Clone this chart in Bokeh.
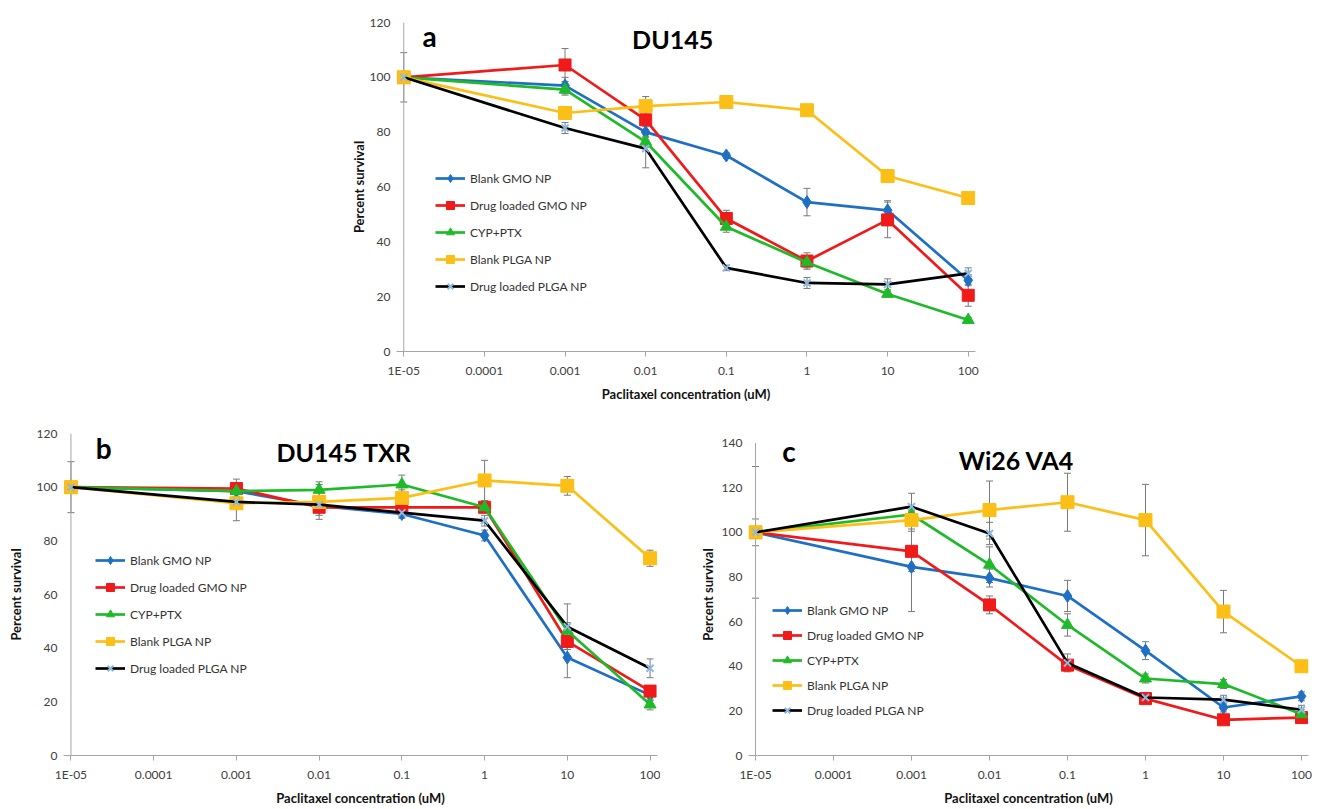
from bokeh.plotting import figure
from bokeh.models import (Range1d, FixedTicker, Label, Legend, LegendItem,
                          ColumnDataSource, Whisker, TeeHead, Spacer)
from bokeh.layouts import column, row
from bokeh.embed import file_html
from bokeh.resources import INLINE

# ---------------- data ----------------
conc = [1e-05, 0.001, 0.01, 0.1, 1, 10, 100]
tick_values = [1e-05, 1e-04, 1e-03, 1e-02, 0.1, 1, 10, 100]
tick_labels = ["1E-05", "0.0001", "0.001", "0.01", "0.1", "1", "10", "100"]
series_names = ["Blank GMO NP", "Drug loaded GMO NP", "CYP+PTX", "Blank PLGA NP", "Drug loaded PLGA NP"]

# Panel a: DU145
a_blank_gmo = [100, 97, 80, 71.5, 54.5, 51.5, 26]
a_drug_gmo = [100, 104.5, 84.5, 48.5, 33, 48, 20.5]
a_cyp_ptx = [100, 95.5, 76.5, 45.5, 32.5, 21, 11.5]
a_blank_plga = [100, 87, 89.5, 91, 88, 64, 56]
a_drug_plga = [100, 81.5, 74, 30.5, 25, 24.5, 28.5]
a_blank_gmo_err = [0, 3, 2, 1, 5, 3.5, 2]
a_drug_gmo_err = [0, 6, 2, 3, 3, 6.5, 4]
a_cyp_ptx_err = [0, 2, 2, 2, 2, 1, 1]
a_blank_plga_err = [0, 1, 3.5, 1, 1, 1, 1]
a_drug_plga_err = [9, 2, 7, 1, 2, 2, 2]

# Panel b: DU145 TXR
b_blank_gmo = [100, 98.5, 93, 90, 82, 36.5, 22.5]
b_drug_gmo = [100, 99.5, 92.5, 92.5, 92.5, 42.5, 24]
b_cyp_ptx = [100, 98.5, 99, 101, 92.5, 46.5, 19]
b_blank_plga = [100, 94, 94.5, 96, 102.5, 100.5, 73.5]
b_drug_plga = [100, 94.5, 93.5, 90.5, 87.5, 48, 32.5]
b_blank_gmo_err = [0, 2, 2, 1.5, 2, 7.5, 2]
b_drug_gmo_err = [0, 3.5, 3, 2, 2, 3, 2]
b_cyp_ptx_err = [0, 2, 3, 3.5, 2, 3, 2]
b_blank_plga_err = [0, 6.5, 6.5, 3, 7.5, 3.5, 3]
b_drug_plga_err = [9.5, 2, 2, 2, 2, 8.5, 3.5]

# Panel c: Wi26 VA4
c_blank_gmo = [100, 84.5, 79.5, 71.5, 47, 21.5, 26.5]
c_drug_gmo = [100, 91.5, 67.5, 40.5, 25.5, 16, 17]
c_cyp_ptx = [100, 108, 85.5, 58.5, 34.5, 32, 18.5]
c_blank_plga = [100, 105.5, 110, 113.5, 105.5, 64.5, 40]
c_drug_plga = [100, 111.5, 99.5, 41.5, 26, 25, 20.5]
c_blank_gmo_err = [29.5, 20, 4, 7, 4, 2, 2]
c_drug_gmo_err = [0, 9, 4, 2, 2, 1, 1]
c_cyp_ptx_err = [0, 2, 8, 5, 2, 2, 2]
c_blank_plga_err = [6, 4, 13, 13, 16, 9.5, 1.5]
c_drug_plga_err = [0, 6, 5, 4, 2, 2, 2]

# ---------------- styles ----------------
line_colors = ["#1f6fc5", "#f01a1a", "#1fba2a", "#fbbf17", "#000000"]
marker_colors = ["#1f6fc5", "#f01a1a", "#1fba2a", "#fbbf17", "#8fb8de"]
markers = ["diamond", "square", "triangle", "square", "x"]
marker_sizes = [13, 12, 12, 13, 10]
FONT = "Lato"
AXIS_GRAY = "#a6a6a6"
TEXT_GRAY = "#404040"
PAD = 0.09


def make_panel(width, height, mbl, mbr, mbt, mbb, ytop, ymax, vals, errs,
               letter, letter_xy, title, title_xy, leg_loc, leg_spacing, ylabel_standoff):
    p = figure(width=width, height=height, x_axis_type="log",
               x_range=Range1d(10 ** (-5 - PAD), 10 ** (2 + PAD)),
               y_range=Range1d(0, ytop),
               output_backend="svg", toolbar_location=None,
               min_border_left=mbl, min_border_right=mbr,
               min_border_top=mbt, min_border_bottom=mbb)
    p.grid.visible = False
    p.outline_line_color = None
    p.background_fill_color = "white"

    p.xaxis.ticker = FixedTicker(ticks=tick_values, minor_ticks=[])
    p.xaxis.major_label_overrides = {t: l for t, l in zip(tick_values, tick_labels)}
    p.xaxis.axis_line_color = AXIS_GRAY
    p.xaxis.major_tick_line_color = AXIS_GRAY
    p.xaxis.major_tick_out = 5
    p.xaxis.major_tick_in = 0
    p.xaxis.minor_tick_line_color = None
    p.xaxis.major_label_standoff = 6
    p.xaxis.axis_label = "Paclitaxel concentration (uM)"
    p.xaxis.axis_label_standoff = 5

    p.yaxis.ticker = FixedTicker(ticks=list(range(0, ymax + 1, 20)), minor_ticks=[])
    p.yaxis.axis_line_color = None
    p.yaxis.major_tick_line_color = None
    p.yaxis.minor_tick_line_color = None
    p.yaxis.major_tick_out = 0
    p.yaxis.major_tick_in = 0
    p.yaxis.major_label_standoff = 6
    p.yaxis.axis_label = "Percent survival"
    p.yaxis.axis_label_standoff = ylabel_standoff

    for ax in (p.xaxis, p.yaxis):
        ax.major_label_text_font = FONT
        ax.major_label_text_font_size = "12px"
        ax.major_label_text_color = TEXT_GRAY
        ax.axis_label_text_font = FONT
        ax.axis_label_text_font_size = "13px"
        ax.axis_label_text_font_style = "bold"
        ax.axis_label_text_color = "#111111"

    # vertical axis line at the first category, from 0 to the top tick
    p.segment(x0=[tick_values[0]], y0=[0], x1=[tick_values[0]], y1=[ymax],
              line_color=AXIS_GRAY, line_width=1)

    items = []
    for i in range(5):
        src = ColumnDataSource(dict(x=conc, y=vals[i]))
        ex = [c for c, e in zip(conc, errs[i]) if e > 0]
        eu = [v + e for v, e in zip(vals[i], errs[i]) if e > 0]
        el = [v - e for v, e in zip(vals[i], errs[i]) if e > 0]
        esrc = ColumnDataSource(dict(x=ex, upper=eu, lower=el))
        w = Whisker(source=esrc, base="x", upper="upper", lower="lower",
                    dimension="height", line_color="#7a7a7a", line_width=1,
                    upper_head=TeeHead(size=7, line_color="#7a7a7a", line_width=1),
                    lower_head=TeeHead(size=7, line_color="#7a7a7a", line_width=1))
        p.add_layout(w)
        ln = p.line("x", "y", source=src, line_color=line_colors[i], line_width=2.7)
        if markers[i] == "x":
            sc = p.scatter("x", "y", source=src, marker="x", size=marker_sizes[i],
                           line_color=marker_colors[i], line_width=2)
        else:
            sc = p.scatter("x", "y", source=src, marker=markers[i], size=marker_sizes[i],
                           fill_color=marker_colors[i], line_color=marker_colors[i])
        items.append(LegendItem(label=series_names[i], renderers=[ln, sc]))

    leg = Legend(items=items, location=leg_loc, glyph_width=30, glyph_height=20,
                 label_height=20, spacing=leg_spacing, padding=0, margin=0,
                 border_line_color=None, background_fill_alpha=0,
                 label_text_font=FONT, label_text_font_size="12px",
                 label_text_color="#333333", label_standoff=5)
    p.add_layout(leg)

    p.add_layout(Label(x=letter_xy[0], y=letter_xy[1], text=letter, text_font=FONT,
                       text_font_style="bold", text_font_size="28px",
                       text_color="#000000", text_align="left", text_baseline="middle"))
    p.add_layout(Label(x=title_xy[0], y=title_xy[1], text=title, text_font=FONT,
                       text_font_style="bold", text_font_size="25px",
                       text_color="#000000", text_align="center", text_baseline="middle"))
    return p


pa = make_panel(640, 408, 56, 5, 22, 57, 120, 120,
                [a_blank_gmo, a_drug_gmo, a_cyp_ptx, a_blank_plga, a_drug_plga],
                [a_blank_gmo_err, a_drug_gmo_err, a_cyp_ptx_err, a_blank_plga_err, a_drug_plga_err],
                "a", (1.71e-05, 114.9), "DU145", (0.0216, 113.8), (39, 55), 7, 0)

pb = make_panel(660, 400, 63, 3, 25, 49, 120, 120,
                [b_blank_gmo, b_drug_gmo, b_cyp_ptx, b_blank_plga, b_drug_plga],
                [b_blank_gmo_err, b_drug_gmo_err, b_cyp_ptx_err, b_blank_plga_err, b_drug_plga_err],
                "b", (2.0e-05, 114.6), "DU145 TXR", (0.02, 113.1), (32, 77), 7, 10)

pc = make_panel(657, 400, 88, 9, 25, 49, 144.3, 140,
                [c_blank_gmo, c_drug_gmo, c_cyp_ptx, c_blank_plga, c_drug_plga],
                [c_blank_gmo_err, c_drug_gmo_err, c_cyp_ptx_err, c_blank_plga_err, c_drug_plga_err],
                "c", (2.2e-05, 136.5), "Wi26 VA4", (0.0222, 132.5), (24, 35), 5, 3)

layout = column(row(Spacer(width=340, height=408), pa), row(pb, pc))

open("out.html", "w").write(file_html(layout, INLINE))
